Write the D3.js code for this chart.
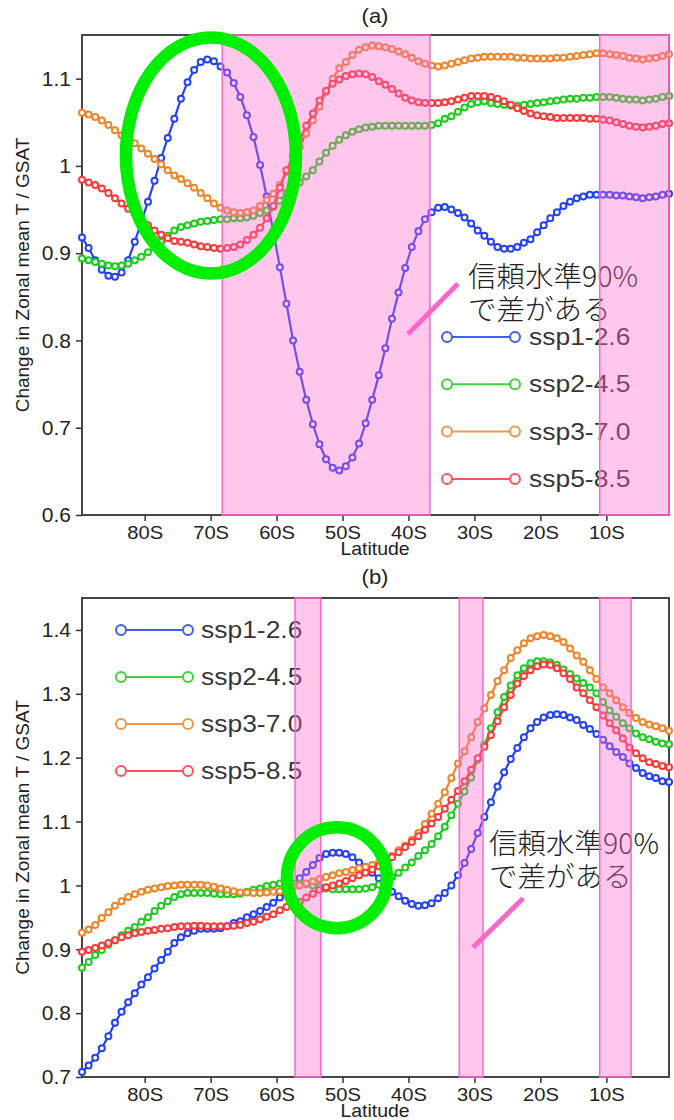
<!DOCTYPE html>
<html>
<head>
<meta charset="utf-8">
<script src="https://cdn.jsdelivr.net/npm/d3@7"></script>
<style>
  body { margin: 0; background: #fff; }
  svg { display: block; font-family: "Liberation Sans", Arial, sans-serif; }
</style>
</head>
<body>
<svg id="chart" width="674" height="1120"></svg>
<script>
// latitude grid, 1 degree, 89.5S .. 0.5S
const latitudes = d3.range(-89.5, 0, 1);
const seriesNames = ["ssp1-2.6", "ssp2-4.5", "ssp3-7.0", "ssp5-8.5"];
const seriesColors = ["#2240ff", "#1ccc1c", "#f08428", "#ff3838"];
const xTicks = [-80, -70, -60, -50, -40, -30, -20, -10];

// (a) values
const aSsp126 = [0.918,0.906,0.892,0.881,0.874,0.873,0.878,0.892,0.913,0.936,
  0.959,0.983,1.009,1.032,1.054,1.077,1.096,1.110,1.119,1.122,
  1.120,1.114,1.107,1.095,1.079,1.058,1.033,1.001,0.965,0.925,
  0.884,0.842,0.800,0.764,0.732,0.704,0.681,0.664,0.654,0.651,
  0.656,0.666,0.682,0.705,0.732,0.760,0.791,0.825,0.855,0.883,
  0.907,0.925,0.939,0.947,0.952,0.953,0.950,0.946,0.941,0.934,
  0.926,0.920,0.913,0.907,0.905,0.905,0.907,0.912,0.916,0.924,
  0.932,0.940,0.947,0.954,0.959,0.963,0.965,0.967,0.967,0.967,
  0.967,0.966,0.966,0.965,0.964,0.963,0.964,0.965,0.967,0.968];
const aSsp245 = [0.894,0.892,0.890,0.888,0.886,0.885,0.886,0.888,0.892,0.896,
  0.901,0.907,0.913,0.920,0.926,0.930,0.932,0.934,0.936,0.937,
  0.938,0.939,0.939,0.940,0.940,0.941,0.943,0.946,0.949,0.953,
  0.960,0.969,0.975,0.981,0.988,0.995,1.005,1.015,1.023,1.030,
  1.035,1.039,1.042,1.044,1.045,1.046,1.046,1.046,1.046,1.046,
  1.046,1.046,1.046,1.047,1.049,1.054,1.057,1.062,1.067,1.071,
  1.073,1.074,1.072,1.071,1.070,1.069,1.069,1.070,1.071,1.072,
  1.073,1.074,1.075,1.076,1.077,1.077,1.078,1.078,1.079,1.079,
  1.079,1.078,1.077,1.076,1.076,1.075,1.076,1.077,1.079,1.080];
const aSsp370 = [1.061,1.059,1.056,1.052,1.047,1.041,1.035,1.030,1.026,1.020,
  1.014,1.008,1.002,0.995,0.989,0.985,0.980,0.975,0.969,0.963,
  0.957,0.952,0.949,0.947,0.946,0.947,0.949,0.954,0.961,0.968,
  0.978,0.993,1.008,1.022,1.037,1.052,1.068,1.085,1.100,1.112,
  1.119,1.127,1.133,1.136,1.138,1.137,1.136,1.134,1.131,1.128,
  1.124,1.120,1.117,1.115,1.114,1.115,1.117,1.119,1.121,1.123,
  1.124,1.125,1.125,1.125,1.125,1.125,1.124,1.124,1.123,1.123,
  1.123,1.123,1.124,1.124,1.125,1.126,1.127,1.128,1.129,1.129,
  1.128,1.127,1.126,1.124,1.123,1.122,1.123,1.124,1.126,1.128];
const aSsp585 = [0.984,0.981,0.978,0.974,0.969,0.963,0.957,0.951,0.946,0.939,
  0.932,0.926,0.921,0.917,0.914,0.913,0.912,0.910,0.908,0.907,
  0.906,0.905,0.906,0.907,0.910,0.915,0.921,0.929,0.940,0.954,
  0.975,0.995,1.012,1.030,1.046,1.060,1.075,1.086,1.094,1.099,
  1.103,1.105,1.106,1.105,1.102,1.097,1.093,1.088,1.083,1.078,
  1.075,1.073,1.072,1.072,1.072,1.073,1.074,1.076,1.078,1.080,
  1.080,1.080,1.079,1.077,1.074,1.070,1.066,1.063,1.060,1.058,
  1.057,1.056,1.055,1.055,1.055,1.055,1.055,1.054,1.054,1.053,
  1.052,1.050,1.048,1.046,1.045,1.044,1.045,1.046,1.048,1.049];

// (b) values
const bSsp126 = [0.708,0.718,0.730,0.745,0.764,0.785,0.802,0.817,0.831,0.845,
  0.856,0.870,0.883,0.896,0.910,0.919,0.925,0.929,0.932,0.932,
  0.932,0.933,0.936,0.941,0.944,0.950,0.955,0.960,0.966,0.973,
  0.981,0.988,1.000,1.011,1.021,1.032,1.043,1.049,1.051,1.051,
  1.049,1.044,1.036,1.029,1.020,1.011,1.000,0.990,0.983,0.976,
  0.971,0.968,0.969,0.972,0.980,0.988,1.000,1.016,1.035,1.057,
  1.082,1.107,1.130,1.155,1.177,1.198,1.215,1.232,1.246,1.256,
  1.263,1.267,1.268,1.267,1.263,1.259,1.251,1.245,1.237,1.228,
  1.218,1.209,1.201,1.191,1.184,1.176,1.171,1.168,1.163,1.162];
const bSsp245 = [0.871,0.880,0.891,0.899,0.907,0.914,0.922,0.929,0.935,0.943,
  0.950,0.960,0.968,0.975,0.982,0.986,0.988,0.988,0.988,0.988,
  0.987,0.986,0.986,0.986,0.987,0.990,0.993,0.995,0.999,1.001,
  1.003,1.003,1.003,1.003,1.002,1.000,0.998,0.995,0.994,0.994,
  0.994,0.994,0.994,0.995,0.997,1.001,1.007,1.013,1.020,1.028,
  1.036,1.046,1.055,1.065,1.077,1.092,1.110,1.128,1.147,1.169,
  1.197,1.220,1.246,1.271,1.295,1.313,1.329,1.340,1.348,1.351,
  1.351,1.349,1.345,1.338,1.331,1.324,1.317,1.310,1.301,1.287,
  1.274,1.264,1.254,1.246,1.238,1.232,1.229,1.225,1.222,1.221];
const bSsp370 = [0.926,0.931,0.938,0.949,0.958,0.968,0.975,0.982,0.986,0.990,
  0.993,0.995,0.997,0.999,1.000,1.001,1.001,1.001,1.001,1.000,
  0.998,0.995,0.993,0.991,0.989,0.989,0.988,0.988,0.989,0.990,
  0.991,0.995,0.998,1.000,1.003,1.006,1.010,1.013,1.016,1.019,
  1.021,1.024,1.027,1.029,1.032,1.035,1.040,1.046,1.055,1.062,
  1.071,1.082,1.096,1.112,1.128,1.146,1.168,1.191,1.210,1.232,
  1.256,1.277,1.298,1.320,1.337,1.356,1.368,1.379,1.387,1.390,
  1.392,1.390,1.387,1.381,1.371,1.360,1.350,1.337,1.323,1.310,
  1.301,1.290,1.279,1.270,1.262,1.256,1.252,1.249,1.246,1.242];
const bSsp585 = [0.896,0.899,0.902,0.906,0.910,0.914,0.919,0.922,0.925,0.927,
  0.929,0.930,0.932,0.933,0.935,0.936,0.936,0.937,0.937,0.936,
  0.936,0.936,0.936,0.937,0.938,0.941,0.943,0.947,0.951,0.955,
  0.961,0.966,0.970,0.974,0.981,0.987,0.993,0.997,1.000,1.003,
  1.007,1.011,1.016,1.020,1.025,1.030,1.036,1.044,1.052,1.060,
  1.068,1.077,1.087,1.097,1.107,1.120,1.134,1.148,1.163,1.181,
  1.199,1.217,1.235,1.257,1.279,1.298,1.316,1.328,1.337,1.343,
  1.346,1.345,1.340,1.332,1.323,1.310,1.301,1.290,1.279,1.266,
  1.254,1.243,1.230,1.216,1.207,1.199,1.193,1.190,1.187,1.185];

// latitude ranges significant at 90%
const aBands = [[-68.25, -36.75], [-11.0, -0.5]];
const bBands = [[-57.2, -53.3], [-32.3, -28.7], [-11.0, -6.25]];

const aTicks = [0.6, 0.7, 0.8, 0.9, 1.0, 1.1];
const bTicks = [0.7, 0.8, 0.9, 1.0, 1.1, 1.2, 1.3, 1.4];

const noteLines = ["信頼水準90%", "で差がある"];

const svg = d3.select("#chart");
const x = d3.scaleLinear().domain([-89.5, -0.5]).range([82, 669]);
const pink = "#ff66cc";

function drawPanel(cfg) {
  const y = d3.scaleLinear().domain(cfg.yDomain).range([cfg.bottom, cfg.top]);
  const g = svg.append("g");
  const midY = (cfg.top + cfg.bottom) / 2;

  // axes
  const yAxis = g.append("g")
    .attr("transform", "translate(82,0)")
    .call(d3.axisLeft(y).tickValues(cfg.yTicks).tickSize(6).tickPadding(5)
      .tickFormat(d => d === 1 ? "1" : d3.format(".1f")(d)));
  const xAxis = g.append("g")
    .attr("transform", `translate(0,${cfg.bottom})`)
    .call(d3.axisBottom(x).tickValues(xTicks).tickSize(6).tickPadding(5)
      .tickFormat(d => (-d) + "S"));
  [yAxis, xAxis].forEach(a => {
    a.select(".domain").remove();
    a.selectAll("line").attr("stroke", "#333").attr("stroke-width", 1.5);
    a.selectAll("text").attr("fill", "#222").style("font-family", "Liberation Sans, Arial, sans-serif");
  });
  yAxis.selectAll("text").attr("font-size", 21);
  xAxis.selectAll("text").attr("font-size", 18).attr("transform", "scale(1.12,1)");

  g.append("rect")
    .attr("x", 82).attr("y", cfg.top)
    .attr("width", 669 - 82).attr("height", cfg.bottom - cfg.top)
    .attr("fill", "none").attr("stroke", "#333").attr("stroke-width", 1.8);

  g.append("text")
    .attr("transform", `translate(375,${cfg.titleY}) scale(1.1,1)`)
    .attr("text-anchor", "middle").attr("font-size", 20).attr("fill", "#222")
    .text(cfg.title);
  g.append("text")
    .attr("transform", `translate(375,${cfg.bottom + 40}) scale(1.08,1)`)
    .attr("text-anchor", "middle").attr("font-size", 18).attr("fill", "#222")
    .text("Latitude");
  g.append("text")
    .attr("transform", `translate(29,${midY}) rotate(-90)`)
    .attr("text-anchor", "middle").attr("font-size", 19).attr("fill", "#222")
    .text("Change in Zonal mean T / GSAT");

  // series
  const line = d3.line().x((d, i) => x(latitudes[i])).y(d => y(d));
  cfg.series.forEach((vals, k) => {
    const s = g.append("g");
    s.append("path").datum(vals)
      .attr("d", line).attr("fill", "none")
      .attr("stroke", seriesColors[k]).attr("stroke-width", 2.2);
    s.selectAll("circle").data(vals).join("circle")
      .attr("cx", (d, i) => x(latitudes[i])).attr("cy", d => y(d))
      .attr("r", 3).attr("fill", "#fff")
      .attr("stroke", seriesColors[k]).attr("stroke-width", 2);
  });

  // legend
  const lg = g.append("g").attr("opacity", 0.85);
  seriesNames.forEach((name, k) => {
    const ly = cfg.legend.y0 + k * cfg.legend.dy;
    lg.append("line")
      .attr("x1", cfg.legend.x1).attr("x2", cfg.legend.x2)
      .attr("y1", ly).attr("y2", ly)
      .attr("stroke", seriesColors[k]).attr("stroke-width", 2);
    [cfg.legend.x1, cfg.legend.x2].forEach(cx => {
      lg.append("circle").attr("cx", cx).attr("cy", ly).attr("r", 5)
        .attr("fill", "#fff").attr("stroke", seriesColors[k]).attr("stroke-width", 2);
    });
    lg.append("text")
      .attr("transform", `translate(${cfg.legend.tx},${ly + 8}) scale(1.15,1)`)
      .attr("font-size", 23).attr("fill", "#111")
      .text(name);
  });

  // note text
  noteLines.forEach((t, i) => {
    g.append("text")
      .attr("x", cfg.note.x).attr("y", cfg.note.y + i * 33)
      .attr("font-family", "Noto Sans CJK JP, sans-serif")
      .attr("font-weight", 300)
      .attr("font-size", 28.5).attr("fill", "#222")
      .text(t);
  });

  // significance bands on top
  g.selectAll("rect.band").data(cfg.bands).join("rect")
    .attr("class", "band")
    .attr("x", d => x(d[0])).attr("y", cfg.top)
    .attr("width", d => x(d[1]) - x(d[0])).attr("height", cfg.bottom - cfg.top)
    .attr("fill", pink).attr("fill-opacity", 0.37)
    .attr("stroke", pink).attr("stroke-width", 1.5);

  // highlight ellipse and pointer
  const e = cfg.ellipse;
  g.append("ellipse")
    .attr("cx", x(e.lat)).attr("cy", y(e.val))
    .attr("rx", e.rx).attr("ry", e.ry)
    .attr("fill", "none").attr("stroke", "#00ee00").attr("stroke-width", 12.5);
  const p = cfg.pointer;
  g.append("line")
    .attr("x1", x(p[0][0])).attr("y1", y(p[0][1]))
    .attr("x2", x(p[1][0])).attr("y2", y(p[1][1]))
    .attr("stroke", "#f868c8").attr("stroke-width", 5);
}

drawPanel({
  top: 35, bottom: 515, yDomain: [0.6, 1.15], yTicks: aTicks,
  title: "(a)", titleY: 23,
  series: [aSsp126, aSsp245, aSsp370, aSsp585],
  bands: aBands,
  legend: { x1: 447, x2: 515, tx: 529, y0: 337, dy: 47.3 },
  note: { x: 468, y: 287 },
  ellipse: { lat: -69.95, val: 1.012, rx: 85, ry: 118 },
  pointer: [[-40.1, 0.807], [-32.5, 0.865]]
});

drawPanel({
  top: 598, bottom: 1077, yDomain: [0.7, 1.45], yTicks: bTicks,
  title: "(b)", titleY: 584,
  series: [bSsp126, bSsp245, bSsp370, bSsp585],
  bands: bBands,
  legend: { x1: 121, x2: 188, tx: 201, y0: 630, dy: 47 },
  note: { x: 489, y: 854 },
  ellipse: { lat: -50.85, val: 1.012, rx: 50, ry: 50.5 },
  pointer: [[-30.2, 0.903], [-22.6, 0.980]]
});
</script>
</body>
</html>
